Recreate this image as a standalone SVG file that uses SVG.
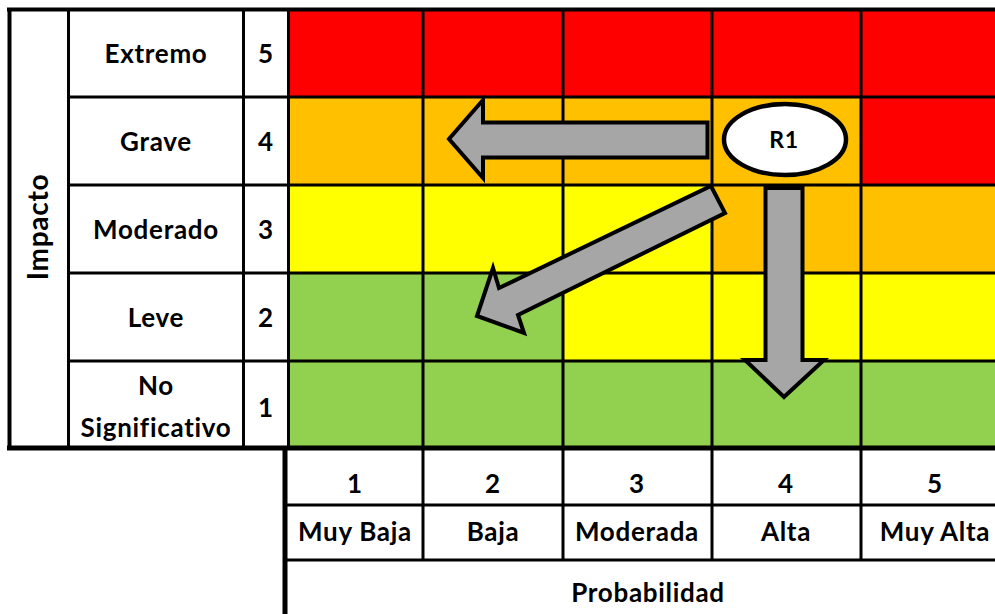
<svg xmlns="http://www.w3.org/2000/svg" width="995" height="614" viewBox="0 0 995 614">
<style>
.t{font-family:Lato,"Liberation Sans",sans-serif;font-weight:bold;font-size:26px;letter-spacing:0.7px;fill:#000;text-anchor:middle}
.ln{stroke:#000;stroke-width:3;fill:none}
.r{fill:#FF0000}.o{fill:#FFC000}.y{fill:#FFFF00}.g{fill:#92D050}
.arrow{fill:#A6A6A6;stroke:#000;stroke-width:4;stroke-linejoin:miter}
</style>
<rect width="995" height="614" fill="#fff"/>
<g id="matrix">
<rect class="r" x="288" y="9" width="135" height="88"/><rect class="r" x="423" y="9" width="140" height="88"/><rect class="r" x="563" y="9" width="149" height="88"/><rect class="r" x="712" y="9" width="149" height="88"/><rect class="r" x="861" y="9" width="149" height="88"/>
<rect class="o" x="288" y="97" width="135" height="88"/><rect class="o" x="423" y="97" width="140" height="88"/><rect class="o" x="563" y="97" width="149" height="88"/><rect class="o" x="712" y="97" width="149" height="88"/><rect class="r" x="861" y="97" width="149" height="88"/>
<rect class="y" x="288" y="185" width="135" height="88"/><rect class="y" x="423" y="185" width="140" height="88"/><rect class="y" x="563" y="185" width="149" height="88"/><rect class="o" x="712" y="185" width="149" height="88"/><rect class="o" x="861" y="185" width="149" height="88"/>
<rect class="g" x="288" y="273" width="135" height="88"/><rect class="g" x="423" y="273" width="140" height="88"/><rect class="y" x="563" y="273" width="149" height="88"/><rect class="y" x="712" y="273" width="149" height="88"/><rect class="y" x="861" y="273" width="149" height="88"/>
<rect class="g" x="288" y="361" width="135" height="88"/><rect class="g" x="423" y="361" width="140" height="88"/><rect class="g" x="563" y="361" width="149" height="88"/><rect class="g" x="712" y="361" width="149" height="88"/><rect class="g" x="861" y="361" width="149" height="88"/>
</g>
<g id="gridlines">
<line x1="7" y1="9.5" x2="995" y2="9.5" stroke="#000" stroke-width="4"/>
<line x1="9.5" y1="8" x2="9.5" y2="448" stroke="#000" stroke-width="4"/>
<line class="ln" x1="68.5" y1="9" x2="68.5" y2="448"/>
<line class="ln" x1="243.5" y1="9" x2="243.5" y2="448"/>
<line class="ln" x1="288.5" y1="9" x2="288.5" y2="448"/>
<line class="ln" x1="423" y1="9" x2="423" y2="560"/>
<line class="ln" x1="563" y1="9" x2="563" y2="560"/>
<line class="ln" x1="712" y1="9" x2="712" y2="560"/>
<line class="ln" x1="861" y1="9" x2="861" y2="560"/>
<line class="ln" x1="68" y1="97" x2="995" y2="97"/>
<line class="ln" x1="68" y1="185" x2="995" y2="185"/>
<line class="ln" x1="68" y1="273" x2="995" y2="273"/>
<line class="ln" x1="68" y1="361" x2="995" y2="361"/>
<line x1="7" y1="448" x2="995" y2="448" stroke="#000" stroke-width="5"/>
<line class="ln" x1="285" y1="505" x2="995" y2="505"/>
<line class="ln" x1="285" y1="560" x2="995" y2="560"/>
<line x1="285" y1="446" x2="285" y2="614" stroke="#000" stroke-width="5"/>
</g>
<g id="labels">
<text class="t" transform="translate(48,227) rotate(-90)" style="font-size:28px">Impacto</text>
<text class="t" x="156" y="63">Extremo</text>
<text class="t" x="156" y="151">Grave</text>
<text class="t" x="156" y="239">Moderado</text>
<text class="t" x="156" y="327">Leve</text>
<text class="t" x="156" y="395">No</text>
<text class="t" x="156" y="437">Significativo</text>
<text class="t" x="266" y="63">5</text>
<text class="t" x="266" y="151">4</text>
<text class="t" x="266" y="239">3</text>
<text class="t" x="266" y="327">2</text>
<text class="t" x="266" y="417">1</text>
<text class="t" x="355" y="493">1</text>
<text class="t" x="493" y="493">2</text>
<text class="t" x="637" y="493">3</text>
<text class="t" x="786" y="493">4</text>
<text class="t" x="935" y="493">5</text>
<text class="t" x="355" y="541">Muy Baja</text>
<text class="t" x="493" y="541">Baja</text>
<text class="t" x="637" y="541">Moderada</text>
<text class="t" x="786" y="541">Alta</text>
<text class="t" x="935" y="541">Muy Alta</text>
<text class="t" x="648" y="602">Probabilidad</text>
</g>
<g id="connectors">
<polygon class="arrow" points="707.5,122.5 483,122.5 483,100 449,139 483,178 483,157.5 707.5,157.5"/>
<polygon class="arrow" points="765.5,188 802.5,188 802.5,360 824,360 784,397 745,360 765.5,360"/>
<polygon class="arrow" points="711,186 725,213 518,315 524,333 477,316 493,268 499,288"/>
</g>
<g id="R1">
<ellipse cx="785" cy="139.5" rx="61" ry="35.5" fill="#fff" stroke="#000" stroke-width="4.5"/>
<text class="t" x="784" y="148" style="font-size:23px">R1</text>
</g>
</svg>
